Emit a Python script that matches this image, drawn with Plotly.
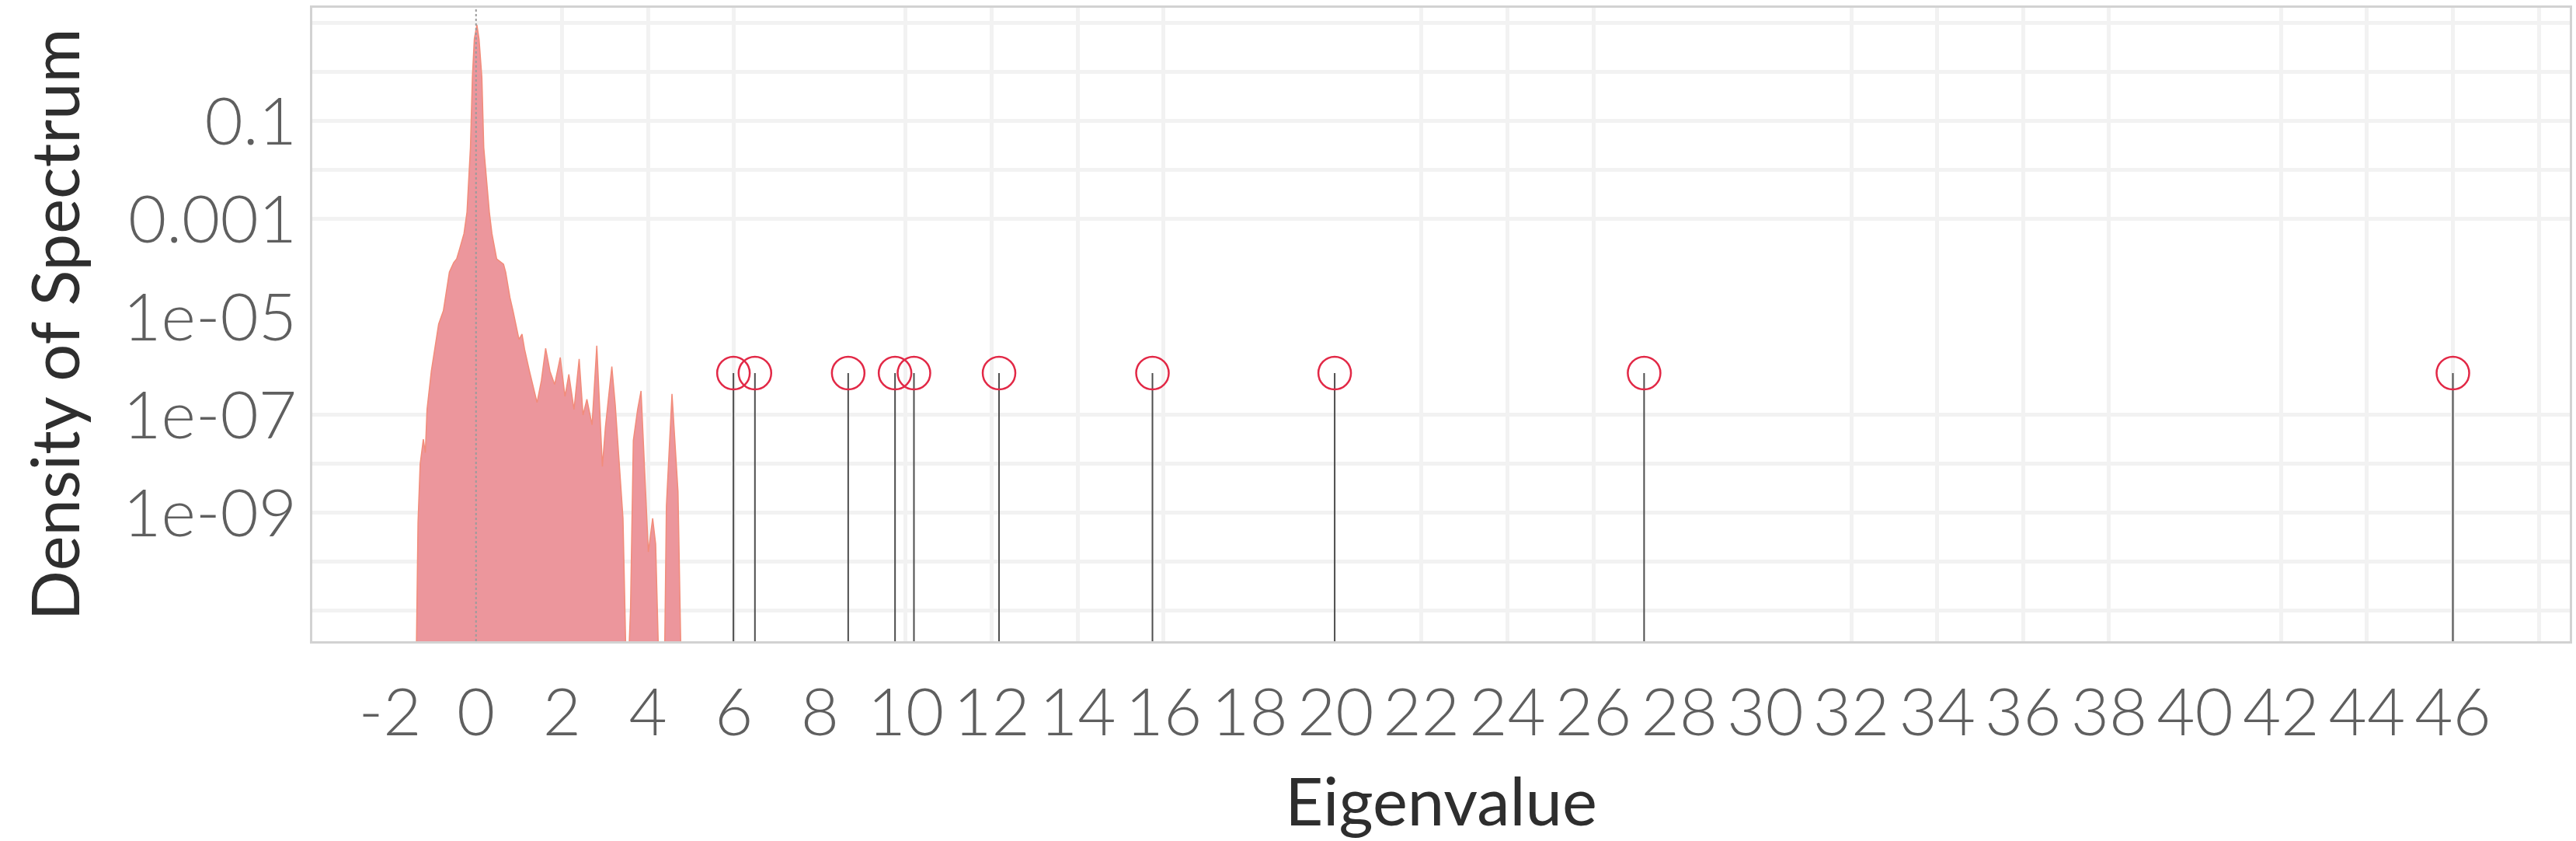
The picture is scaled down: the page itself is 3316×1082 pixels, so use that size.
import plotly.graph_objects as go

# spectral density (x = eigenvalue, y = density)
eig_grid = [
    -1.42, -1.385, -1.35, -1.30, -1.25, -1.226, -1.18, -1.14, -1.04, -0.95,
    -0.87, -0.76, -0.62, -0.52, -0.45, -0.38, -0.28, -0.21, -0.13, -0.085,
    -0.04, 0.02, 0.07, 0.136, 0.18, 0.31, 0.37, 0.48, 0.59, 0.64,
    0.69, 0.79, 0.86, 0.93, 1.00, 1.07, 1.13, 1.24, 1.42, 1.52,
    1.62, 1.72, 1.83, 1.96, 2.07, 2.16, 2.28, 2.40, 2.49, 2.58,
    2.70, 2.81, 2.94, 3.01, 3.16, 3.24, 3.32, 3.42, 3.49, 3.52,
    3.53, 3.55, 3.595, 3.66, 3.76, 3.84, 3.94, 4.01, 4.11, 4.18,
    4.25, 4.28, 4.36, 4.39, 4.43, 4.56, 4.70, 4.77, 4.80,
]
density = [
    1e-14, 2.0e-12, 6.3e-10, 1.0e-08, 2.5e-08, 3.2e-08, 1.7e-08, 1.3e-07, 7.9e-07, 2.5e-06,
    7.2e-06, 1.35e-05, 8.3e-05, 1.3e-04, 1.55e-04, 2.5e-04, 5.1e-04, 1.4e-03, 2.9e-02, 0.78,
    4.8, 9.3, 4.8, 0.78, 2.9e-02, 1.4e-03, 5.1e-04, 1.55e-04, 1.3e-04, 1.2e-04,
    8.3e-05, 2.5e-05, 1.35e-05, 7.2e-06, 3.5e-06, 4.5e-06, 2.2e-06, 8.1e-07, 1.8e-07, 5.0e-07,
    2.3e-06, 7.9e-07, 4.2e-07, 1.5e-06, 2.4e-07, 6.8e-07, 1.3e-07, 1.4e-06, 1.0e-07, 2.1e-07,
    6.3e-08, 2.6e-06, 8.9e-09, 5.6e-08, 9.8e-07, 1.6e-07, 1.3e-08, 7.8e-10, 1e-12, 1e-14,
    1e-14, 1e-12, 1.1e-11, 3.0e-08, 1.3e-07, 3.1e-07, 4.9e-09, 1.6e-10, 7.8e-10, 2.3e-10,
    1e-12, 1e-14, 1e-14, 1e-12, 1.4e-09, 2.7e-07, 2.7e-09, 1e-12, 1e-14,
]

# outlying eigenvalues, shown as stems with open circles
outliers = [5.99, 6.49, 8.66, 9.75, 10.19, 12.17, 15.74, 19.98, 27.18, 46.0]
outlier_level = 7.2e-7
stem_floor = 1e-14

x_ticks = list(range(-2, 48, 2))
x_tick_text = [str(v) for v in x_ticks]
x_grid = [2, 4, 6, 10, 12, 14, 16, 22, 24, 26, 32, 34, 36, 38, 42, 44, 46, 48]
y_ticks = [1e-1, 1e-3, 1e-5, 1e-7, 1e-9]
y_tick_text = ["0.1", "0.001", "1e-05", "1e-07", "1e-09"]
y_grid = [10, 1, 1e-1, 1e-2, 1e-3, 1e-7, 1e-8, 1e-9, 1e-10, 1e-11]

stem_x, stem_y = [], []
for v in outliers:
    stem_x += [v, v, None]
    stem_y += [stem_floor, outlier_level, None]

fig = go.Figure()
fig.add_trace(go.Scatter(
    x=eig_grid, y=density, mode="lines", fill="toself",
    fillcolor="rgb(236,150,156)",
    line=dict(color="rgb(242,140,122)", width=1.5),
    hoverinfo="skip", showlegend=False))
fig.add_trace(go.Scatter(
    x=stem_x, y=stem_y, mode="lines",
    line=dict(color="#4e4e4e", width=2),
    hoverinfo="skip", showlegend=False))
fig.add_trace(go.Scatter(
    x=outliers, y=[outlier_level] * len(outliers), mode="markers",
    marker=dict(symbol="circle-open", size=42, color="rgb(226,40,70)",
                line=dict(width=2.5)),
    showlegend=False))

fig.add_vline(x=0, line=dict(color="#9c9c9c", width=2, dash="dot"), layer="above")

tick_font = dict(family="Lato", size=85, color="#5f5f5f", weight=300)
title_font = dict(family="Lato", size=85, color="#2e2e2e")

fig.update_layout(
    width=3316, height=1082,
    margin=dict(l=402, r=8, t=10, b=257),
    paper_bgcolor="white", plot_bgcolor="white",
    xaxis=dict(
        range=[-3.81, 48.72], automargin=False,
        tickvals=x_ticks, ticktext=x_tick_text,
        tickfont=tick_font, ticks="", ticklabelstandoff=16,
        showgrid=False, zeroline=False,
        minor=dict(tickvals=x_grid, showgrid=True, gridcolor="#f2f2f2",
                   gridwidth=5, ticks=""),
        showline=True, mirror=True, linecolor="#d2d2d2", linewidth=3,
        title=dict(text="Eigenvalue", font=title_font, standoff=40),
    ),
    yaxis=dict(
        type="log", range=[-11.62, 1.317], automargin=False,
        tickvals=y_ticks, ticktext=y_tick_text,
        tickfont=tick_font, ticks="",
        showgrid=False, zeroline=False,
        minor=dict(tickvals=y_grid, showgrid=True, gridcolor="#f2f2f2",
                   gridwidth=5, ticks=""),
        showline=True, mirror=True, linecolor="#d2d2d2", linewidth=3,
        title=dict(text="Density of Spectrum", font=title_font, standoff=28),
    ),
)

# the page body has a default margin; drop it so the figure fills the window
fig.write_html("out.html", config={"displayModeBar": False},
               post_script="document.body.style.margin = '0';")
